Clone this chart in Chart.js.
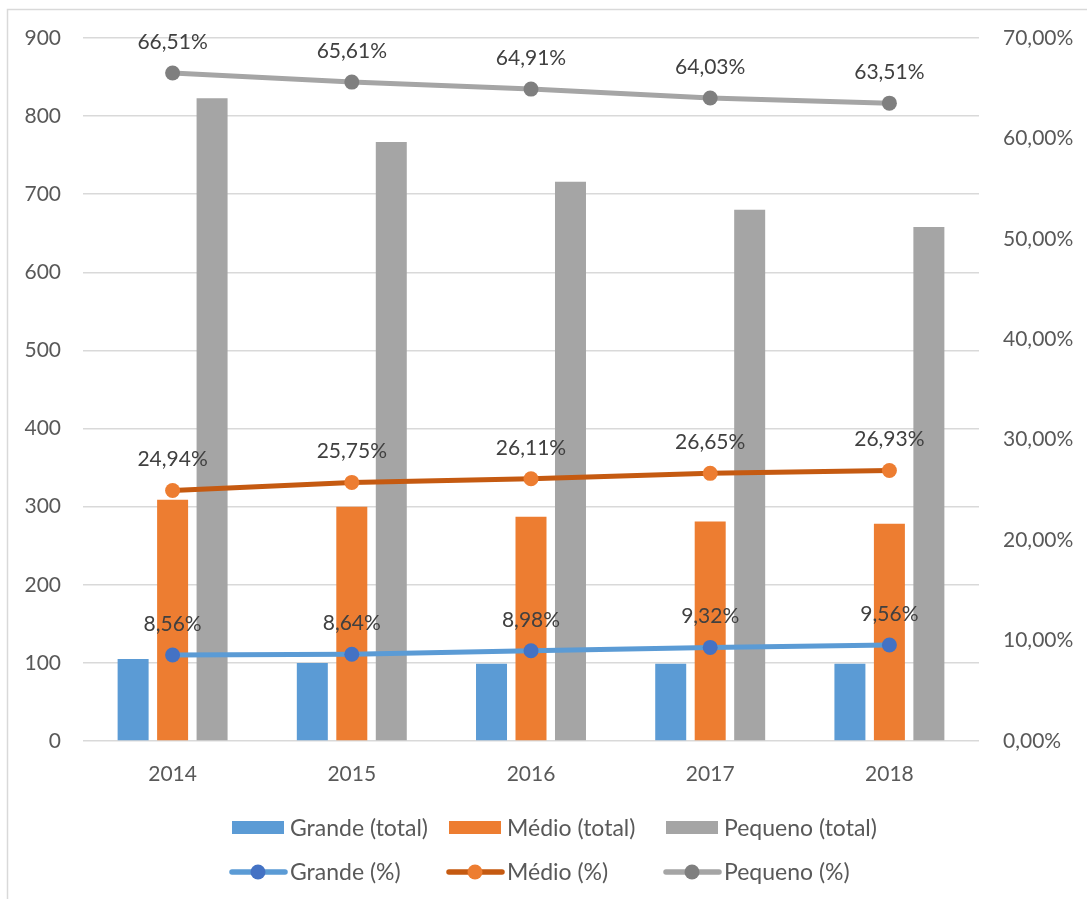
<!DOCTYPE html>
<html>
<head>
<meta charset="utf-8">
<script src="https://cdn.jsdelivr.net/npm/chart.js@4"></script>
<style>
  html, body { margin: 0; padding: 0; background: #fff; }
  canvas { display: block; }
</style>
</head>
<body>
<canvas id="chart" width="1087" height="899"></canvas>
<script>
const years = ['2014', '2015', '2016', '2017', '2018'];
const grandeTotal = [105, 100, 99, 99, 99];
const medioTotal = [309, 300, 287, 281, 278];
const pequenoTotal = [823, 767, 716, 680, 658];
const grandePct = [8.56, 8.64, 8.98, 9.32, 9.56];
const medioPct = [24.94, 25.75, 26.11, 26.65, 26.93];
const pequenoPct = [66.51, 65.61, 64.91, 64.03, 63.51];
const leftMax = 900, leftStep = 100;
const rightMax = 70, rightStep = 10;

const FONT = "Lato, 'Open Sans', sans-serif";
const fmtPct = v => v.toFixed(2).replace('.', ',') + '%';

// labels above the line points
const pointLabels = {
  id: 'pointLabels',
  afterDatasetsDraw(chart) {
    const ctx = chart.ctx;
    ctx.save();
    ctx.font = '21px ' + FONT;
    ctx.fillStyle = '#404040';
    ctx.textAlign = 'center';
    ctx.textBaseline = 'middle';
    chart.data.datasets.forEach((ds, i) => {
      if (ds.type !== 'line') return;
      chart.getDatasetMeta(i).data.forEach((pt, j) => {
        ctx.fillText(fmtPct(ds.data[j]), pt.x, pt.y - 31);
      });
    });
    ctx.restore();
  }
};

// two-row legend + outer frame (top and left edges only are visible)
const legendAndFrame = {
  id: 'legendAndFrame',
  beforeDraw(chart) {
    const ctx = chart.ctx;
    ctx.save();
    ctx.strokeStyle = '#d9d9d9';
    ctx.lineWidth = 1.5;
    ctx.beginPath();
    ctx.moveTo(7.5, 899);
    ctx.lineTo(7.5, 9.5);
    ctx.lineTo(1087, 9.5);
    ctx.stroke();
    ctx.restore();
  },
  afterDraw(chart) {
    const ctx = chart.ctx;
    const cols = [232, 449, 666];
    const rows = [827.5, 872];
    ctx.save();
    ctx.font = '23px ' + FONT;
    ctx.textBaseline = 'middle';
    chart.data.datasets.forEach((ds, i) => {
      const row = ds.type === 'line' ? 1 : 0;
      const x = cols[i % 3], y = rows[row];
      if (row === 0) {
        ctx.fillStyle = ds.backgroundColor;
        ctx.fillRect(x, y - 6.5, 52, 13);
      } else {
        ctx.strokeStyle = ds.borderColor;
        ctx.lineWidth = 5.5;
        ctx.lineCap = 'round';
        ctx.beginPath();
        ctx.moveTo(x, y);
        ctx.lineTo(x + 53, y);
        ctx.stroke();
        ctx.fillStyle = ds.pointBackgroundColor;
        ctx.beginPath();
        ctx.arc(x + 26, y, 7.5, 0, Math.PI * 2);
        ctx.fill();
      }
      ctx.fillStyle = '#595959';
      ctx.fillText(ds.label, x + 58, y + 1);
    });
    ctx.restore();
  }
};

const lineStyle = (label, data, line, marker) => ({
  type: 'line',
  label: label,
  data: data,
  yAxisID: 'y1',
  borderColor: line,
  backgroundColor: marker,
  pointBackgroundColor: marker,
  pointBorderColor: marker,
  pointRadius: 7.5,
  pointBorderWidth: 0,
  borderWidth: 5,
  tension: 0,
  order: 0
});

new Chart(document.getElementById('chart'), {
  data: {
    labels: years,
    datasets: [
      { type: 'bar', label: 'Grande (total)', data: grandeTotal, backgroundColor: '#5B9BD5', yAxisID: 'y', order: 1 },
      { type: 'bar', label: 'Médio (total)', data: medioTotal, backgroundColor: '#ED7D31', yAxisID: 'y', order: 1 },
      { type: 'bar', label: 'Pequeno (total)', data: pequenoTotal, backgroundColor: '#A5A5A5', yAxisID: 'y', order: 1 },
      lineStyle('Grande (%)', grandePct, '#5B9BD5', '#4472C4'),
      lineStyle('Médio (%)', medioPct, '#C55A11', '#ED7D31'),
      lineStyle('Pequeno (%)', pequenoPct, '#A5A5A5', '#7F7F7F')
    ]
  },
  options: {
    responsive: false,
    animation: false,
    devicePixelRatio: 1,
    layout: { padding: { top: 38, left: 0, right: 0, bottom: 0 } },
    datasets: {
      bar: { categoryPercentage: 0.661, barPercentage: 0.785 }
    },
    plugins: {
      legend: { display: false },
      tooltip: { enabled: false }
    },
    scales: {
      x: {
        grid: { display: false, drawTicks: false },
        border: { display: false },
        ticks: { color: '#595959', font: { family: FONT, size: 21 }, padding: 21 },
        afterFit(scale) { scale.height = 158; }
      },
      y: {
        position: 'left',
        min: 0,
        max: leftMax,
        grid: { color: '#d9d9d9', lineWidth: 1.5, drawTicks: false },
        border: { display: false },
        ticks: { stepSize: leftStep, color: '#595959', font: { family: FONT, size: 21 }, padding: 22 },
        afterFit(scale) { scale.width = 83; }
      },
      y1: {
        position: 'right',
        min: 0,
        max: rightMax,
        grid: { display: false, drawTicks: false },
        border: { display: false },
        ticks: {
          stepSize: rightStep,
          color: '#595959',
          font: { family: FONT, size: 21 },
          padding: 24,
          callback: v => fmtPct(v)
        },
        afterFit(scale) { scale.width = 108; }
      }
    }
  },
  plugins: [pointLabels, legendAndFrame]
});
</script>
</body>
</html>
